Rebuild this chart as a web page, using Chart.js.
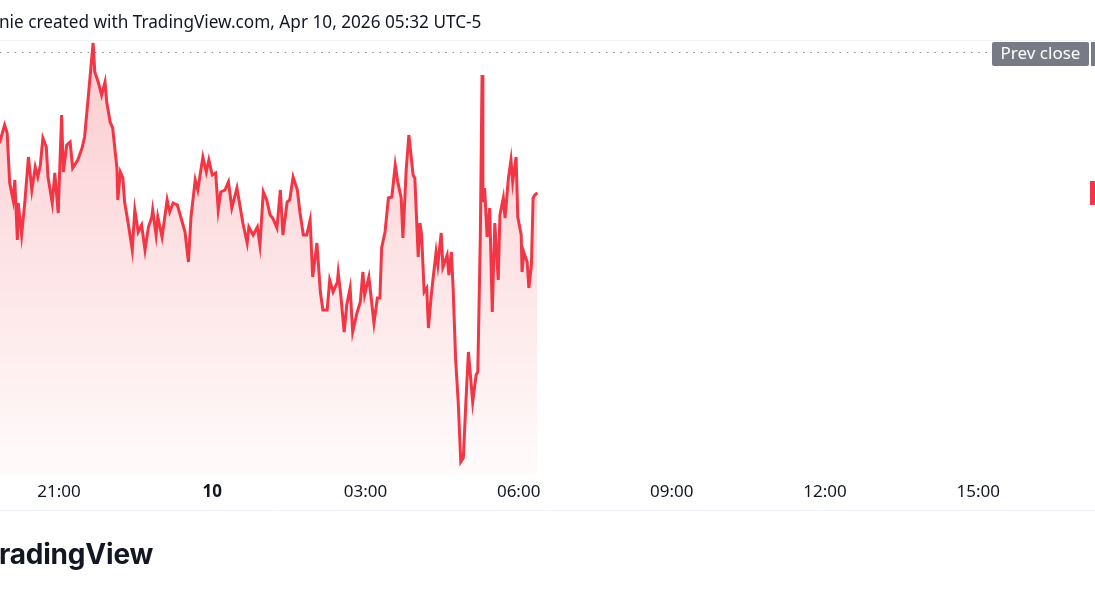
<!DOCTYPE html>
<html>
<head>
<meta charset="utf-8">
<script src="https://cdn.jsdelivr.net/npm/chart.js"></script>
<style>
  html, body { margin: 0; padding: 0; background: #fff; }
  #wrap { position: relative; width: 1095px; height: 600px; overflow: hidden; background: #fff; }
  #chart { position: absolute; left: 0; top: 0; }
  .header { position: absolute; left: -1px; top: 9px; font: 17.2px "Noto Sans", sans-serif; color: #131722; white-space: nowrap; line-height: 26px; }
  .logo { position: absolute; left: -18px; top: 536px; font: bold 28px Inter, sans-serif; color: #131722; letter-spacing: -0.2px; line-height: 36px; white-space: nowrap; }
</style>
</head>
<body>
<div id="wrap">
  <canvas id="chart" width="1095" height="600"></canvas>
  <div class="header">nie created with TradingView.com, Apr 10, 2026 05:32 UTC-5</div>
  <div class="logo">TradingView</div>
</div>
<script>
    // time in minutes since Apr 9 00:00
    const times = [
        1190, 1196, 1199, 1202, 1206, 1208, 1211, 1212, 1216, 1220, 1224, 1228, 1232, 1235, 1238, 1241,
        1245, 1247, 1252, 1255, 1259, 1263, 1265, 1269, 1273, 1276, 1282, 1287, 1290, 1294, 1300, 1302,
        1306, 1310, 1314, 1316, 1320, 1323, 1328, 1329, 1332, 1335, 1337, 1341, 1346, 1349, 1353,
        1357, 1361, 1365, 1369, 1370, 1374, 1376, 1381, 1387, 1390, 1394, 1399, 1404, 1408, 1412, 1415,
        1420, 1423, 1429, 1433, 1436, 1440, 1444, 1447, 1450, 1455, 1459, 1463, 1469, 1473, 1476, 1481,
        1483, 1488, 1493, 1496, 1500, 1504,
        1508, 1511, 1516, 1520, 1523, 1528, 1531, 1535, 1540, 1543, 1547, 1551, 1555, 1558, 1563, 1567,
        1570, 1575, 1578, 1582, 1587, 1588, 1591, 1595, 1598, 1602, 1605, 1610, 1614, 1617, 1619, 1624,
        1630, 1634, 1637, 1639, 1643, 1647, 1651, 1655, 1658, 1662, 1664, 1668, 1671, 1676, 1678, 1682,
        1684, 1686, 1689, 1692, 1694, 1697, 1699, 1703, 1705, 1709, 1711, 1716, 1718, 1721, 1723, 1726,
        1729, 1732, 1735, 1738, 1741, 1744, 1746, 1750, 1752, 1755, 1757, 1758, 1760, 1763, 1766, 1769,
        1772, 1776, 1778, 1782, 1784, 1788, 1791, 1793, 1797, 1799, 1803, 1804, 1806, 1810, 1812, 1815,
        1817, 1819, 1822
    ];
    const prices = [
        99.09, 99.27, 99.19, 98.69, 98.52, 98.72, 98.12, 98.49, 98.17, 98.52, 98.95, 98.62, 98.85, 98.75, 98.87, 99.14,
        99.05, 98.75, 98.49, 98.79, 98.39, 99.37, 98.80, 99.07, 99.10, 98.84, 98.92, 99.04, 99.15, 99.52, 100.09, 99.80,
        99.70, 99.57, 99.70, 99.50, 99.30, 99.24, 98.84, 98.52, 98.80, 98.74, 98.50, 98.30, 98.02, 98.42, 98.20,
        98.27, 98.02, 98.25, 98.35, 98.42, 98.17, 98.35, 98.15, 98.52, 98.40, 98.49, 98.47, 98.32, 98.20, 97.90, 98.35,
        98.72, 98.62, 98.95, 98.80, 98.92, 98.77, 98.79, 98.42, 98.60, 98.62, 98.70, 98.44, 98.64, 98.44, 98.29, 98.09,
        98.25, 98.17, 98.25, 98.07, 98.60, 98.52,
        98.37, 98.34, 98.24, 98.62, 98.17, 98.50, 98.52, 98.75, 98.62, 98.40, 98.17, 98.17, 98.32, 97.75, 98.09, 97.60,
        97.42, 97.42, 97.72, 97.60, 97.70, 97.79, 97.57, 97.20, 97.47, 97.64, 97.20, 97.39, 97.50, 97.80, 97.57, 97.75,
        97.29, 97.54, 97.54, 98.04, 98.20, 98.54, 98.55, 98.87, 98.70, 98.54, 98.14, 98.84, 99.17, 98.77, 98.74, 97.95,
        98.29, 98.17, 97.60, 97.64, 97.24, 97.54, 97.70, 98.00, 97.87, 98.19, 97.85, 97.97, 97.77, 98.00, 97.64, 96.92,
        96.50, 95.90, 95.94, 96.50, 97.00, 96.70, 96.50, 96.77, 96.80, 98.17, 99.77, 98.50, 98.64, 98.15, 98.44, 97.40,
        98.29, 97.72, 98.37, 98.54, 98.34, 98.74, 98.92, 98.70, 98.95, 98.35, 98.17, 97.80, 98.00, 97.90, 97.64, 97.87,
        98.54, 98.57, 98.59
    ];
    const prevClose = 100.00;
    const tickTimes = [1260, 1440, 1620, 1800, 1980, 2160, 2340];
    const tickLabels = ['21:00', '10', '03:00', '06:00', '09:00', '12:00', '15:00'];

    const red = '#F23645';

    const tvExtras = {
        id: 'tvExtras',
        beforeDatasetsDraw(chart) {
            const { ctx, chartArea } = chart;
            const y = chart.scales.y.getPixelForValue(prevClose);
            ctx.save();
            ctx.strokeStyle = '#F0F3FA';
            ctx.lineWidth = 1;
            ctx.beginPath();
            ctx.moveTo(0, chartArea.top + 0.5);
            ctx.lineTo(chart.width, chartArea.top + 0.5);
            ctx.moveTo(0, 510.5);
            ctx.lineTo(chart.width, 510.5);
            ctx.stroke();
            ctx.strokeStyle = '#8A8D96';
            ctx.setLineDash([1.5, 5.8]);
            ctx.beginPath();
            ctx.moveTo(0, Math.round(y) + 0.5);
            ctx.lineTo(chart.width, Math.round(y) + 0.5);
            ctx.stroke();
            ctx.restore();
        },
        afterDraw(chart) {
            const { ctx } = chart;
            const yPrev = chart.scales.y.getPixelForValue(prevClose);
            const yLast = chart.scales.y.getPixelForValue(prices[prices.length - 1]);
            ctx.save();
            ctx.fillStyle = '#787B86';
            ctx.beginPath();
            ctx.roundRect(992, yPrev - 10, 97, 24, 2);
            ctx.fill();
            ctx.fillRect(1091, yPrev - 10, 10, 24);
            ctx.fillStyle = '#fff';
            ctx.font = '17px "Noto Sans"';
            ctx.textAlign = 'center';
            ctx.textBaseline = 'middle';
            ctx.fillText('Prev close', 1040.5, yPrev + 2);
            ctx.fillStyle = red;
            ctx.fillRect(1090, yLast - 12, 10, 24);
            ctx.restore();
        }
    };

    new Chart(document.getElementById('chart'), {
        type: 'line',
        data: {
            datasets: [{
                data: times.map((t, i) => ({ x: t, y: prices[i] })),
                borderColor: red,
                borderWidth: 3,
                pointRadius: 0,
                tension: 0,
                fill: 'start',
                backgroundColor: (context) => {
                    const { ctx, chartArea } = context.chart;
                    if (!chartArea) return 'rgba(242,54,69,0.1)';
                    const g = ctx.createLinearGradient(0, chartArea.top, 0, chartArea.bottom);
                    g.addColorStop(0, 'rgba(242,54,69,0.26)');
                    g.addColorStop(1, 'rgba(242,54,69,0.02)');
                    return g;
                }
            }]
        },
        options: {
            responsive: false,
            animation: false,
            layout: { padding: { top: 40, bottom: 90, left: 0, right: 0 } },
            plugins: { legend: { display: false }, tooltip: { enabled: false } },
            scales: {
                x: {
                    type: 'linear',
                    min: 1190.6,
                    max: 2477.2,
                    grid: { display: false, drawTicks: false },
                    border: { display: false },
                    afterBuildTicks: (scale) => { scale.ticks = tickTimes.map(v => ({ value: v })); },
                    afterFit: (scale) => { scale.height = 35; },
                    ticks: {
                        autoSkip: false,
                        maxRotation: 0,
                        padding: 7,
                        color: '#131722',
                        font: (c) => ({ family: 'Noto Sans', size: 17, weight: c.tick && c.tick.value === 1440 ? 'bold' : 'normal' }),
                        callback: (value) => tickLabels[tickTimes.indexOf(value)]
                    }
                },
                y: {
                    display: false,
                    min: 95.77,
                    max: 100.12
                }
            }
        },
        plugins: [tvExtras]
    });
</script>
</body>
</html>
